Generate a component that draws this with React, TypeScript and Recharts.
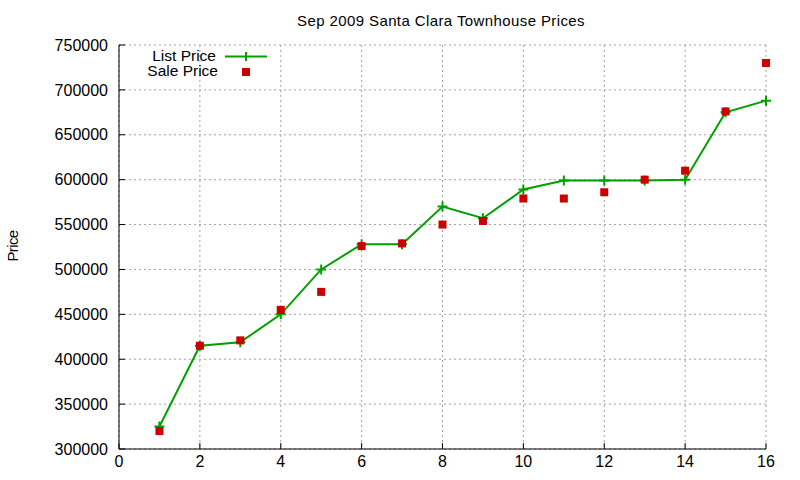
import { ComposedChart, Line, XAxis, YAxis, CartesianGrid, Legend } from "recharts";

const houses = [1, 2, 3, 4, 5, 6, 7, 8, 9, 10, 11, 12, 13, 14, 15, 16];
const listPrice = [
  325000, 415000, 419000, 450000, 500000, 528000, 528000, 570000,
  557000, 589000, 599000, 599000, 599000, 600000, 675000, 688000,
];
const salePrice = [
  320000, 415000, 421000, 455000, 475000, 526000, 529000, 550000,
  554000, 579000, 579000, 586000, 600000, 610000, 676000, 730000,
];
const xTicks = [0, 2, 4, 6, 8, 10, 12, 14, 16];
const yTicks = [300000, 350000, 400000, 450000, 500000, 550000, 600000, 650000, 700000, 750000];

const GREEN = "#00a000";
const RED = "#cc0000";

const data = houses.map((x, i) => ({ x, list: listPrice[i], sale: salePrice[i] }));

function PlusDot(props: any) {
  const { cx, cy, index } = props;
  if (cx == null || cy == null) return null;
  return (
    <path
      key={`p-${index}`}
      d={`M${cx - 5},${cy}H${cx + 5}M${cx},${cy - 5}V${cy + 5}`}
      stroke={GREEN}
      strokeWidth={2}
      fill="none"
    />
  );
}

function SquareDot(props: any) {
  const { cx, cy, index } = props;
  if (cx == null || cy == null) return null;
  return <rect key={`s-${index}`} x={cx - 4} y={cy - 4} width={8} height={8} fill={RED} />;
}

function KeyBox() {
  return (
    <svg width={160} height={36} style={{ display: "block" }}>
      <text x={96} y={15} textAnchor="end" fontSize={15.5} fill="#000">List Price</text>
      <line x1={105} y1={10.5} x2={147} y2={10.5} stroke={GREEN} strokeWidth={2} />
      <line x1={126} y1={6} x2={126} y2={15} stroke={GREEN} strokeWidth={2} />
      <text x={98} y={29.5} textAnchor="end" fontSize={15.5} fill="#000">Sale Price</text>
      <rect x={122} y={22} width={8} height={8} fill={RED} />
    </svg>
  );
}

export default function App() {
  const axisStroke = { stroke: "#000", strokeWidth: 1 };
  return (
    <div
      style={{
        position: "absolute",
        left: 0,
        top: 0,
        width: 800,
        height: 480,
        background: "#fff",
        fontFamily: "'Liberation Sans', Arial, sans-serif",
      }}
    >
      <div
        style={{
          position: "absolute",
          left: 241,
          width: 400,
          top: 12,
          textAlign: "center",
          fontSize: 15,
          lineHeight: "17px",
          letterSpacing: 0.4,
          color: "#000",
        }}
      >
        Sep 2009 Santa Clara Townhouse Prices
      </div>
      <div
        style={{
          position: "absolute",
          left: 12,
          top: 246,
          transform: "translate(-50%, -50%) rotate(-90deg)",
          fontSize: 15,
          letterSpacing: -0.6,
          lineHeight: "17px",
          color: "#000",
          whiteSpace: "nowrap",
        }}
      >
        Price
      </div>
      <ComposedChart width={800} height={480} data={data} margin={{ top: 45, right: 34, bottom: 0, left: 0 }}>
        <CartesianGrid xAxisId="b" yAxisId="l" stroke="#a0a0a0" strokeDasharray="2 3" />
        <XAxis
          xAxisId="b"
          dataKey="x"
          type="number"
          domain={[0, 16]}
          ticks={xTicks}
          interval={0}
          height={31}
          tickSize={-6}
          tickMargin={13}
          axisLine={axisStroke}
          tickLine={{ stroke: "#000" }}
          tick={{ fill: "#000", fontSize: 16 }}
        />
        <XAxis
          xAxisId="t"
          orientation="top"
          dataKey="x"
          type="number"
          domain={[0, 16]}
          ticks={xTicks}
          interval={0}
          height={0}
          tickSize={-6}
          tick={false}
          axisLine={axisStroke}
          tickLine={{ stroke: "#000" }}
        />
        <YAxis
          yAxisId="l"
          type="number"
          domain={[300000, 750000]}
          ticks={yTicks}
          interval={0}
          width={119}
          tickSize={-6}
          tickMargin={17}
          axisLine={axisStroke}
          tickLine={{ stroke: "#000" }}
          tick={{ fill: "#000", fontSize: 16 }}
        />
        <YAxis
          yAxisId="r"
          orientation="right"
          type="number"
          domain={[300000, 750000]}
          ticks={yTicks}
          interval={0}
          width={0}
          tickSize={-6}
          tick={false}
          axisLine={axisStroke}
          tickLine={{ stroke: "#000" }}
        />
        <Legend
          layout="vertical"
          align="center"
          verticalAlign="middle"
          wrapperStyle={{ left: 120, top: 46, width: 160, height: 36 }}
          content={() => <KeyBox />}
        />
        <Line
          xAxisId="b"
          yAxisId="l"
          dataKey="list"
          name="List Price"
          stroke={GREEN}
          strokeWidth={2}
          dot={PlusDot}
          activeDot={false}
          isAnimationActive={false}
        />
        <Line
          xAxisId="b"
          yAxisId="l"
          dataKey="sale"
          name="Sale Price"
          stroke="none"
          dot={SquareDot}
          activeDot={false}
          isAnimationActive={false}
        />
      </ComposedChart>
    </div>
  );
}
